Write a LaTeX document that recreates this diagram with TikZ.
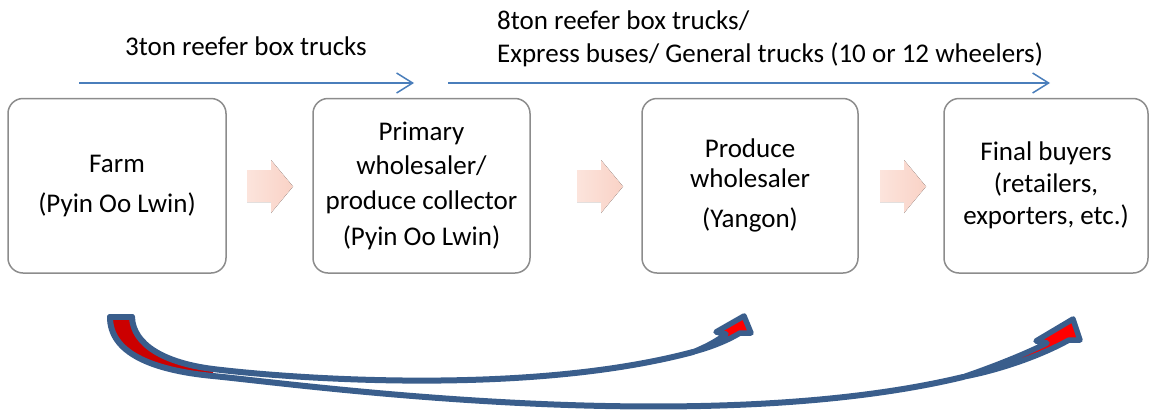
\documentclass[tikz,border=0pt]{standalone}
\usepackage{fontspec}
\setmainfont{Carlito}
\usetikzlibrary{arrows.meta}
\definecolor{boxgray}{RGB}{140,140,140}
\definecolor{flowblue}{RGB}{74,126,187}
\definecolor{pinkA}{RGB}{252,228,220}
\definecolor{pinkB}{RGB}{249,210,198}
\definecolor{arrowblue}{RGB}{58,94,140}
\definecolor{darkred}{RGB}{204,0,0}
\definecolor{brightred}{RGB}{255,0,0}
\begin{document}
\begin{tikzpicture}[x=1pt,y=-1pt,
  stagebox/.style={draw=boxgray, line width=1.5pt, rounded corners=15pt, fill=white,
    align=center, font=\fontsize{27}{33}\selectfont, inner sep=0pt,
    minimum height=174.5pt},
  lbl/.style={font=\fontsize{27}{33}\selectfont, inner sep=0pt},
  flow/.style={draw=flowblue, line width=1.5pt,
    -{Straight Barb[length=16pt,width=20pt,line width=1.5pt]}},
  blockarrow/.style={left color=pinkA, right color=pinkB, draw=none},
  curveline/.style={draw=arrowblue, line width=6pt, line cap=round, line join=round},
  curvehead/.style={fill=brightred, draw=arrowblue, line width=5.5pt, line join=round},
]
\useasboundingbox (0,0) rectangle (1156,410);

% stage boxes
\node[stagebox, minimum width=218pt] (farm) at (117,185.75)
  {Farm\\[7pt](Pyin Oo Lwin)};
\node[stagebox, minimum width=217pt] (primary) at (421.5,185.75)
  {Primary\\[1pt]wholesaler/\\[2pt]produce collector\\[3pt](Pyin Oo Lwin)};
\node[stagebox, minimum width=216pt] (produce) at (750,185.75)
  {Produce\\[-3pt]wholesaler\\[7pt](Yangon)};
\node[stagebox, minimum width=204pt] (final) at (1046,185.75)
  {Final buyers\\[-1pt](retailers,\\[-1pt]exporters, etc.)};

% block arrows between boxes
\foreach \x in {247,577,880} {
  \fill[blockarrow] (\x,170) -- ({\x+24},170) -- ({\x+24},160) -- ({\x+46},186.5)
    -- ({\x+24},213) -- ({\x+24},202) -- (\x,202) -- cycle;
}

% transport labels and flow lines
\node[lbl] (lbl3ton) at (246,46) {3ton reefer box trucks};
\node[lbl, anchor=west, align=left] (lbl8ton) at (497,39)
  {8ton reefer box trucks/\\Express buses/ General trucks (10 or 12 wheelers)};
\coordinate (f1s) at (79,83);
\coordinate (f1e) at (414,83);
\coordinate (f2s) at (448,83);
\coordinate (f2e) at (1050,83);
\draw[flow] (f1s) -- (f1e);
\draw[flow] (f2s) -- (f2e);

% curved arrows
\fill[darkred] (110,317) -- (132,317) .. controls (133,345) and (165,363) .. (213,369)
  -- (213,376) .. controls (150,370) and (110,352) .. (110,317) -- cycle;
\draw[curveline] (132,317) .. controls (133,345) and (165,363) .. (213,369)
  .. controls (273,376.5) and (520,398) .. (693,352);
\draw[curveline] (110,317) .. controls (110,352) and (150,370) .. (213,376)
  .. controls (293,383.6) and (700,440) .. (963,377);
\draw[curveline] (110,317) -- (132,317);
\path[curvehead] (693,352) .. controls (708,346) and (718,340) .. (726,334)
  -- (716,332) -- (744,316) -- (751,333) -- (740,333)
  .. controls (725,342) and (708,348) .. (693,352) -- cycle;
\path[curvehead] (963,377) .. controls (995,366) and (1025,354) .. (1047,343)
  -- (1036,341) -- (1073,319) -- (1080,340) -- (1069,340)
  .. controls (1040,356) and (1000,370) .. (963,377) -- cycle;
\end{tikzpicture}
\end{document}
